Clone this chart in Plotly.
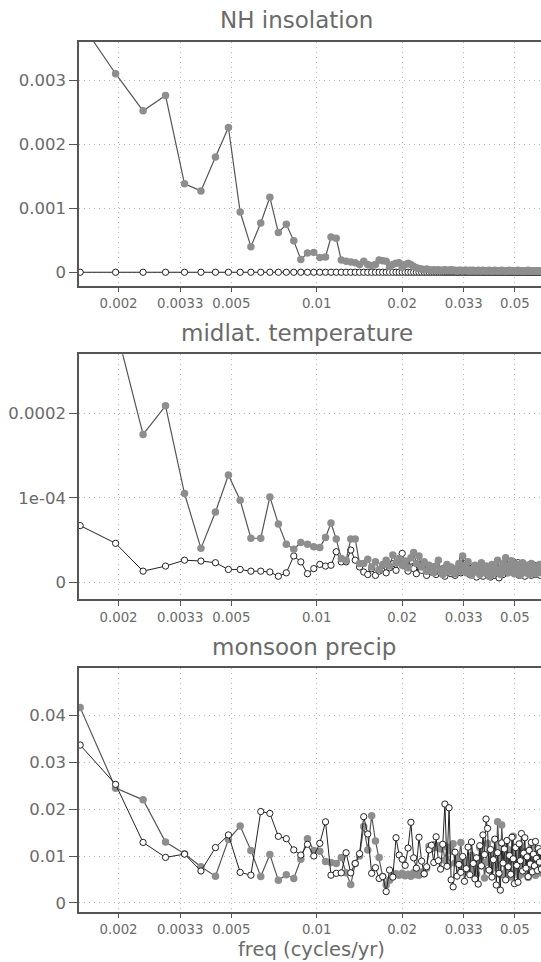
import math
import plotly.graph_objects as go

# ---------------- data ----------------
n_years = 2048                      # record length -> Fourier frequencies k / n_years
harmonics = list(range(3, 128))     # harmonics shown (k = 3 ... 127)
freq = [k / n_years for k in harmonics]

x_tick_vals = [0.002, 0.0033, 0.005, 0.01, 0.02, 0.033, 0.05]
x_tick_text = ["0.002", "0.0033", "0.005", "0.01", "0.02", "0.033", "0.05"]

panel_titles = ["NH insolation", "midlat. temperature", "monsoon precip"]
x_title = "freq (cycles/yr)"

# NH insolation (power), grey = forced run, open = control
ins_gray = [
    0.00391, 0.00310, 0.00252, 0.00276, 0.00138, 0.00127, 0.00180, 0.00226, 0.00094, 0.00040,
    0.00077, 0.00117, 0.00062, 0.00075, 0.00049, 0.00020, 0.00030, 0.00031, 0.00023, 0.00024,
    0.00055, 0.00053, 0.00019, 0.00017, 0.00016, 0.00015, 0.00012, 0.00017, 0.00012, 0.00010,
    0.00012, 0.00019, 0.00018, 0.00017, 0.00009, 0.00012, 0.00014, 0.00015, 0.00008, 0.00012,
    0.00014, 0.00012, 0.00009, 0.00007, 0.00006, 0.00005, 0.00004, 0.00005, 0.00004, 0.00003,
    0.00004, 0.00003, 0.00004, 0.00003, 0.00003, 0.00004, 0.00003, 0.00003, 0.00004, 0.00003,
    0.00003, 0.00002, 0.00003, 0.00003, 0.00002, 0.00003, 0.00003, 0.00002, 0.00003, 0.00002,
    0.00003, 0.00002, 0.00002, 0.00003, 0.00002, 0.00002, 0.00003, 0.00002, 0.00002, 0.00002,
    0.00003, 0.00002, 0.00002, 0.00002, 0.00003, 0.00002, 0.00002, 0.00002, 0.00002, 0.00003,
    0.00002, 0.00002, 0.00002, 0.00002, 0.00002, 0.00003, 0.00002, 0.00002, 0.00002, 0.00002,
    0.00002, 0.00002, 0.00003, 0.00002, 0.00002, 0.00002, 0.00002, 0.00002, 0.00002, 0.00002,
    0.00002, 0.00003, 0.00002, 0.00002, 0.00002, 0.00002, 0.00002, 0.00002, 0.00002, 0.00002,
    0.00002, 0.00002, 0.00002, 0.00002, 0.00002,
]
ins_open = [
    0, 0, 0, 0, 0, 0, 0, 0, 0, 0,
    0, 0, 0, 0, 0, 0, 0, 0, 0, 0,
    0, 0, 0, 0, 0, 0, 0, 0, 0, 0,
    0, 0, 0, 0, 0, 0, 0, 0, 0, 0,
    0, 0, 0, 0, 0, 0, 0, 0, 0, 0,
    0, 0, 0, 0, 0, 0, 0, 0, 0, 0,
    0, 0, 0, 0, 0, 0, 0, 0, 0, 0,
    0, 0, 0, 0, 0, 0, 0, 0, 0, 0,
    0, 0, 0, 0, 0, 0, 0, 0, 0, 0,
    0, 0, 0, 0, 0, 0, 0, 0, 0, 0,
    0, 0, 0, 0, 0, 0, 0, 0, 0, 0,
    0, 0, 0, 0, 0, 0, 0, 0, 0, 0,
    0, 0, 0, 0, 0,
]

# midlatitude temperature, in units of 1e-4
temp_unit = 1e-4
temp_gray = [
    4.00, 3.03, 1.75, 2.09, 1.05, 0.40, 0.83, 1.27, 0.97, 0.52,
    0.52, 1.01, 0.69, 0.45, 0.39, 0.47, 0.45, 0.42, 0.41, 0.53,
    0.70, 0.51, 0.28, 0.26, 0.51, 0.51, 0.22, 0.22, 0.27, 0.18,
    0.24, 0.15, 0.21, 0.26, 0.19, 0.32, 0.23, 0.28, 0.20, 0.25,
    0.17, 0.29, 0.35, 0.22, 0.31, 0.18, 0.24, 0.13, 0.20, 0.16,
    0.11, 0.19, 0.26, 0.14, 0.09, 0.17, 0.21, 0.12, 0.18, 0.15,
    0.10, 0.16, 0.22, 0.13, 0.31, 0.19, 0.11, 0.24, 0.15, 0.08,
    0.14, 0.20, 0.12, 0.17, 0.09, 0.23, 0.16, 0.11, 0.19, 0.13,
    0.07, 0.15, 0.21, 0.10, 0.18, 0.12, 0.26, 0.14, 0.09, 0.17,
    0.22, 0.13, 0.29, 0.16, 0.11, 0.20, 0.14, 0.25, 0.18, 0.10,
    0.15, 0.21, 0.12, 0.19, 0.08, 0.16, 0.23, 0.13, 0.18, 0.11,
    0.20, 0.14, 0.09, 0.17, 0.22, 0.12, 0.16, 0.19, 0.10, 0.15,
    0.18, 0.13, 0.21, 0.11, 0.16,
]
temp_open = [
    0.67, 0.46, 0.13, 0.19, 0.26, 0.25, 0.23, 0.15, 0.15, 0.13,
    0.13, 0.12, 0.07, 0.11, 0.31, 0.24, 0.10, 0.16, 0.21, 0.19,
    0.20, 0.36, 0.24, 0.24, 0.38, 0.26, 0.18, 0.12, 0.09, 0.16,
    0.08, 0.13, 0.20, 0.11, 0.17, 0.22, 0.14, 0.27, 0.34, 0.19,
    0.13, 0.25, 0.16, 0.10, 0.21, 0.14, 0.19, 0.08, 0.15, 0.12,
    0.18, 0.09, 0.14, 0.11, 0.16, 0.07, 0.12, 0.15, 0.10, 0.13,
    0.08, 0.14, 0.19, 0.11, 0.28, 0.22, 0.13, 0.17, 0.09, 0.12,
    0.18, 0.10, 0.06, 0.14, 0.11, 0.16, 0.07, 0.12, 0.15, 0.09,
    0.13, 0.06, 0.11, 0.17, 0.08, 0.14, 0.10, 0.05, 0.12, 0.16,
    0.09, 0.13, 0.21, 0.11, 0.24, 0.18, 0.25, 0.14, 0.24, 0.10,
    0.17, 0.12, 0.23, 0.08, 0.15, 0.19, 0.11, 0.14, 0.07, 0.13,
    0.16, 0.10, 0.18, 0.12, 0.08, 0.15, 0.11, 0.20, 0.09, 0.13,
    0.17, 0.10, 0.14, 0.08, 0.12,
]

# monsoon precipitation, in units of 1e-3
mon_unit = 1e-3
mon_gray = [
    41.7, 24.5, 22.0, 13.0, 10.5, 7.7, 5.7, 13.5, 16.4, 11.2,
    5.6, 10.3, 4.8, 6.0, 5.2, 9.3, 13.7, 11.2, 11.0, 8.8,
    8.6, 8.4, 9.7, 6.4, 3.9, 8.4, 10.0, 16.3, 11.3, 18.6,
    13.2, 9.7, 5.6, 3.8, 4.8, 5.6, 6.2, 5.9, 6.3, 5.8,
    6.1, 5.7, 6.4, 6.0, 5.9, 6.6, 6.2, 7.4, 12.1, 11.6,
    12.4, 11.8, 12.2, 11.5, 12.3, 9.1, 11.9, 8.2, 11.0, 12.6,
    8.5, 9.8, 8.9, 12.9, 7.4, 9.2, 8.3, 6.6, 8.8, 10.1,
    7.2, 9.5, 6.1, 8.7, 11.8, 7.9, 10.4, 5.3, 8.6, 12.7,
    9.0, 6.8, 10.9, 7.5, 13.4, 8.1, 17.3, 9.6, 6.0, 16.6,
    10.2, 6.3, 12.1, 8.4, 7.0, 11.3, 5.5, 9.9, 14.2, 8.0,
    6.7, 10.6, 8.9, 5.8, 12.4, 7.6, 9.3, 6.2, 11.0, 8.5,
    10.8, 5.4, 9.7, 7.3, 12.0, 6.5, 8.8, 10.3, 5.9, 9.1,
    7.8, 11.2, 6.4, 8.6, 10.0,
]
mon_open = [
    33.7, 25.3, 12.9, 9.7, 10.4, 6.8, 11.8, 14.5, 6.5, 5.9,
    19.5, 19.1, 14.2, 13.7, 11.3, 10.2, 12.5, 10.0, 12.7, 17.3,
    5.9, 6.3, 6.4, 10.7, 6.4, 8.4, 10.5, 18.4, 14.7, 6.3,
    7.5, 5.2, 5.6, 2.4, 7.0, 5.5, 13.9, 10.2, 9.3, 8.0,
    11.7, 17.2, 9.6, 7.4, 14.0, 8.9, 6.2, 7.7, 11.3, 12.3,
    8.6, 14.1, 9.0, 7.2, 12.5, 21.1, 7.8, 20.3, 4.9, 3.4,
    10.8, 5.7, 8.2, 6.5, 9.9, 4.6, 7.3, 11.9, 6.0, 13.0,
    8.4, 5.1, 9.6, 4.0, 12.2, 7.9, 14.5, 10.3, 17.9, 15.9,
    7.0, 11.4, 5.5, 9.2, 13.6, 3.8, 10.7, 6.3, 2.7, 12.8,
    8.5, 11.5, 4.9, 13.3, 7.7, 10.1, 6.1, 14.0, 9.4, 4.1,
    11.8, 8.0, 4.4, 12.6, 9.0, 14.8, 6.8, 10.6, 13.9, 7.4,
    9.8, 5.6, 11.2, 8.3, 12.9, 6.6, 10.4, 7.9, 13.1, 9.5,
    6.9, 11.6, 8.7, 10.9, 7.2,
]

y_ranges = [[-0.00021, 0.0036], [-2.0e-5, 2.7e-4], [-0.0019, 0.0501]]
y_tick_vals = [[0, 0.001, 0.002, 0.003], [0, 1e-4, 2e-4], [0, 0.01, 0.02, 0.03, 0.04]]
y_tick_text = [["0", "0.001", "0.002", "0.003"], ["0", "1e-04", "0.0002"],
               ["0", "0.01", "0.02", "0.03", "0.04"]]

# ---------------- figure ----------------
W, H = 541, 962
LEFT = 79
panel_px = [(41.7, 285.7), (354.3, 599.0), (668.3, 911.7)]   # top/bottom pixel of each frame
title_px = [(296.8, 20.0), (296.8, 333.0), (303.8, 647.0)]

def py(p):
    return 1 - p / H

def px(p):
    return (p - LEFT) / (W - LEFT)

GRAY_M = "#8e8e8e"
GRAY_L = "#555555"
DARK = "#222222"
TXT = "#6a6a6a"
FONT = "DejaVu Sans"
GRID_DASH = "1px,4px"

fig = go.Figure()

def gray_trace(y, i):
    return go.Scatter(x=freq, y=y, mode="lines+markers", xaxis=f"x{i}", yaxis=f"y{i}",
                      line=dict(color=GRAY_L, width=1.2),
                      marker=dict(color=GRAY_M, size=7.5, line=dict(width=0)),
                      showlegend=False, hoverinfo="skip")

def open_trace(y, i):
    return go.Scatter(x=freq, y=y, mode="lines+markers", xaxis=f"x{i}", yaxis=f"y{i}",
                      line=dict(color=DARK, width=1.0),
                      marker=dict(color="white", size=6.3, line=dict(color=DARK, width=1)),
                      showlegend=False, hoverinfo="skip")

# panel 1: open first, grey on top
fig.add_trace(open_trace(ins_open, 1))
fig.add_trace(gray_trace(ins_gray, 1))
# panel 2: grey on top
fig.add_trace(open_trace([v * temp_unit for v in temp_open], 2))
fig.add_trace(gray_trace([v * temp_unit for v in temp_gray], 2))
# panel 3: open on top
fig.add_trace(gray_trace([v * mon_unit for v in mon_gray], 3))
fig.add_trace(open_trace([v * mon_unit for v in mon_open], 3))

x_range = [math.log10(0.001451), math.log10(0.0618)]
layout = dict(
    width=W, height=H,
    margin=dict(l=LEFT, r=0, t=0, b=0, pad=0),
    paper_bgcolor="white", plot_bgcolor="white",
    showlegend=False,
    font=dict(family=FONT, color=TXT),
)
for i in range(3):
    n = "" if i == 0 else str(i + 1)
    top, bot = panel_px[i]
    layout["xaxis" + n] = dict(
        type="log", range=x_range, domain=[0, 1], anchor="y" + n,
        tickvals=x_tick_vals, ticktext=x_tick_text,
        tickfont=dict(size=13.3, color=TXT, family=FONT),
        ticks="outside", ticklen=5, tickwidth=1, tickcolor="#555",
        showline=True, linecolor="#555", linewidth=1.5, mirror=True,
        showgrid=True, gridcolor="#b5b5b5", griddash=GRID_DASH, gridwidth=1.2,
        zeroline=False, fixedrange=True,
    )
    layout["yaxis" + n] = dict(
        range=y_ranges[i], domain=[py(bot), py(top)], anchor="x" + n,
        tickvals=y_tick_vals[i], ticktext=y_tick_text[i],
        tickfont=dict(size=16.5, color=TXT, family=FONT),
        ticks="outside", ticklen=8, tickwidth=1, tickcolor="#555",
        showline=True, linecolor="#555", linewidth=1.5, mirror=False,
        showgrid=True, gridcolor="#b5b5b5", griddash=GRID_DASH, gridwidth=1.2,
        zeroline=False, fixedrange=True,
    )
fig.update_layout(**layout)

ann = []
for t, (cx, cy) in zip(panel_titles, title_px):
    ann.append(dict(text=t, x=px(cx), y=py(cy), xref="paper", yref="paper",
                    xanchor="center", yanchor="middle", showarrow=False,
                    font=dict(size=23, color=TXT, family=FONT)))
ann.append(dict(text=x_title, x=px(311), y=py(949), xref="paper", yref="paper",
                xanchor="center", yanchor="middle", showarrow=False,
                font=dict(size=19.5, color=TXT, family=FONT)))
fig.update_layout(annotations=ann)

fig.write_html("out.html")
